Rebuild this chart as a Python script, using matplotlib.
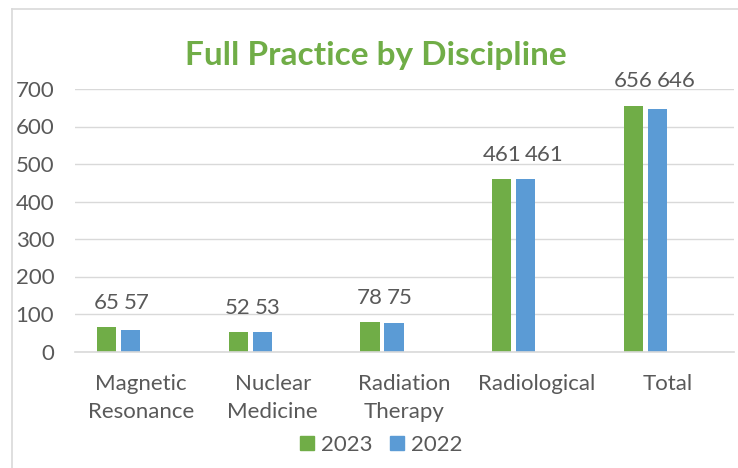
import matplotlib
matplotlib.use("Agg")
import matplotlib.pyplot as plt
from matplotlib.lines import Line2D
from matplotlib.patches import Patch
import numpy as np

# ==============================
# DATA
# ==============================
categories = ["Magnetic\nResonance", "Nuclear\nMedicine", "Radiation\nTherapy", "Radiological", "Total"]
values_2023 = [65, 52, 78, 461, 656]
values_2022 = [57, 53, 75, 461, 646]
series_names = ["2023", "2022"]
y_ticks = [0, 100, 200, 300, 400, 500, 600, 700]

GREEN = "#70AD47"
BLUE = "#5B9BD5"
TEXT = "#595959"
GRID = "#D9D9D9"

plt.rcParams['font.family'] = ['Lato', 'DejaVu Sans']

W, H = 738, 468
fig = plt.figure(figsize=(W / 100, H / 100), dpi=100)

# plot area in pixels
left, right, top, bottom = 75, 734, 89, 351.5
ax = fig.add_axes([left / W, 1 - bottom / H, (right - left) / W, (bottom - top) / H])

x = np.arange(len(categories))
bar_w = 0.145
off_green = -0.262
off_blue = -0.080
FS = 16

b1 = ax.bar(x + off_green, values_2023, bar_w, color=GREEN, zorder=3)
b2 = ax.bar(x + off_blue, values_2022, bar_w, color=BLUE, zorder=3)

ax.set_xlim(-0.5, len(categories) - 0.5)
ax.set_ylim(0, 700)
ax.set_yticks(y_ticks)
ax.set_xticks(x)
ax.set_xticklabels(categories, linespacing=1.5)
ax.tick_params(axis='y', length=0, pad=15, labelsize=FS, labelcolor=TEXT)
ax.tick_params(axis='x', length=0, pad=16, labelsize=FS, labelcolor=TEXT)
ax.grid(axis='y', color=GRID, lw=1.0, zorder=0)
for s in ["top", "right", "left"]:
    ax.spines[s].set_visible(False)
ax.spines["bottom"].set_color(GRID)
ax.spines["bottom"].set_linewidth(1.2)
ax.spines["bottom"].set_zorder(4)

# ==============================
# DATA LABELS (blue label pushed right if it would overlap)
# ==============================
fig.canvas.draw()
renderer = fig.canvas.get_renderer()
for i in range(len(categories)):
    top_val = max(values_2023[i], values_2022[i])
    g = ax.annotate(str(values_2023[i]), (x[i] + off_green, top_val), xytext=(0, 13),
                    textcoords="offset points", ha="center", va="baseline",
                    fontsize=FS, color=TEXT)
    bb = g.get_window_extent(renderer)
    t = ax.annotate(str(values_2022[i]), (x[i] + off_blue, top_val), xytext=(0, 13),
                    textcoords="offset points", ha="center", va="baseline",
                    fontsize=FS, color=TEXT)
    tb = t.get_window_extent(renderer)
    if tb.x0 < bb.x1 + 4:
        shift = (bb.x1 + 4 - tb.x0) * 72 / fig.dpi
        t.set_position((shift, 13))

# ==============================
# TITLE, LEGEND, FRAME
# ==============================
fig.text(376 / W, 1 - 65 / H, "Full Practice by Discipline", ha="center", va="baseline",
         fontsize=24, fontweight="bold", color=GREEN)

handles = [Patch(color=GREEN), Patch(color=BLUE)]
fig.legend(handles, series_names, loc="center", bbox_to_anchor=(381 / W, 1 - 445 / H),
           ncol=2, frameon=False, fontsize=FS, labelcolor=TEXT,
           handlelength=0.63, handleheight=0.63, handletextpad=0.3, columnspacing=0.8)

fig.add_artist(Line2D([12.5 / W, 12.5 / W], [0, 1 - 9 / H], color=GRID, lw=1.2))
fig.add_artist(Line2D([12.5 / W, 1], [1 - 9 / H, 1 - 9 / H], color=GRID, lw=1.2))

fig.savefig("out.png", dpi=100)
